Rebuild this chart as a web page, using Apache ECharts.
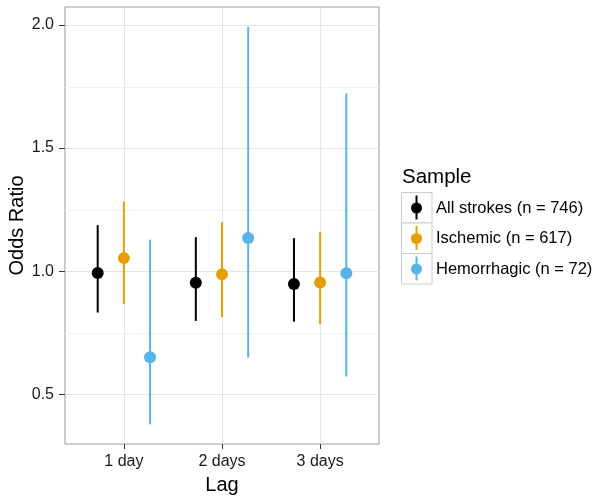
<!DOCTYPE html>
<html><head><meta charset="utf-8">
<script src="https://cdn.jsdelivr.net/npm/echarts@6/dist/echarts.min.js"></script>
<style>html,body{margin:0;padding:0;background:#fff}#c{width:604px;height:504px}</style>
</head><body><div id="c"></div>
<script>
var categories = ['1 day', '2 days', '3 days'];
var seriesNames = ['All strokes (n = 746)', 'Ischemic (n = 617)', 'Hemorrhagic (n = 72)'];
var colors = ['#000000', '#E69F00', '#56B4E9'];
var estAll = [0.993, 0.953, 0.948];
var lowAll = [0.832, 0.798, 0.795];
var highAll = [1.187, 1.138, 1.134];
var estIsch = [1.053, 0.987, 0.954];
var lowIsch = [0.866, 0.814, 0.785];
var highIsch = [1.283, 1.200, 1.160];
var estHem = [0.650, 1.135, 0.992];
var lowHem = [0.378, 0.649, 0.572];
var highHem = [1.128, 1.993, 1.722];
var yTicks = [0.5, 1.0, 1.5, 2.0];
var yMinor = [0.75, 1.25, 1.75];
var yTitle = 'Odds Ratio';
var xTitle = 'Lag';
var legendTitle = 'Sample';

var est = [estAll, estIsch, estHem];
var low = [lowAll, lowIsch, lowHem];
var high = [highAll, highIsch, highHem];
var dodge = [-0.2667, 0, 0.2667];
var FONT = 'Liberation Sans, Arial, sans-serif';

var series = [];
// grid lines (horizontal major+minor, vertical at categories)
var gridData = yMinor.map(function(v){ return [0, v, 0]; })
  .concat(yTicks.map(function(v){ return [0, v, 1]; }))
  .concat(categories.map(function(c, i){ return [1, i + 1, 1]; }));
series.push({
  type: 'custom', silent: true, z: 1,
  data: gridData,
  renderItem: function(params, api){
    var cs = params.coordSys;
    var kind = api.value(0), v = api.value(1), major = api.value(2);
    var col = major ? '#e5e5e5' : '#f3f3f3';
    if (kind === 0) {
      var y = Math.round(api.coord([1, v])[1]) + 0.5;
      return {type: 'line', shape: {x1: cs.x, y1: y, x2: cs.x + cs.width, y2: y}, style: {stroke: col, lineWidth: 1}};
    } else {
      var x = Math.round(api.coord([v, 1])[0]) + 0.5;
      return {type: 'line', shape: {x1: x, y1: cs.y, x2: x, y2: cs.y + cs.height}, style: {stroke: col, lineWidth: 1}};
    }
  }
});
for (var s = 0; s < 3; s++) {
  (function(s){
    var bars = categories.map(function(c, i){ return [i + 1 + dodge[s], low[s][i], high[s][i]]; });
    series.push({
      type: 'custom', name: seriesNames[s], z: 3,
      data: bars,
      encode: {x: 0, y: [1, 2]},
      renderItem: function(params, api){
        var p1 = api.coord([api.value(0), api.value(1)]);
        var p2 = api.coord([api.value(0), api.value(2)]);
        return {type: 'line', shape: {x1: p1[0], y1: p1[1], x2: p2[0], y2: p2[1]},
          style: {stroke: colors[s], lineWidth: 2}};
      }
    });
    series.push({
      type: 'scatter', name: seriesNames[s], z: 4,
      symbol: 'circle', symbolSize: 12,
      itemStyle: {color: colors[s], opacity: 1},
      data: categories.map(function(c, i){ return [i + 1 + dodge[s], est[s][i]]; })
    });
  })(s);
}

// titles + legend drawn as graphic
var graphic = [
  {type: 'text', x: 17, y: 225.5, rotation: Math.PI / 2,
    style: {text: yTitle, font: '20px ' + FONT, fill: '#000', align: 'center', verticalAlign: 'middle'}},
  {type: 'text', left: 402, top: 167, style: {text: legendTitle, font: '20.5px ' + FONT, fill: '#000'}}
];
for (var k = 0; k < 3; k++) {
  var y0 = 192.5 + k * 30.5;
  graphic.push({type: 'rect', shape: {x: 401.5, y: y0, width: 30.5, height: 30.5}, style: {fill: '#fff', stroke: '#cccccc', lineWidth: 1}});
  graphic.push({type: 'line', shape: {x1: 416.5, y1: y0 + 3, x2: 416.5, y2: y0 + 27}, style: {stroke: colors[k], lineWidth: 2}});
  graphic.push({type: 'circle', shape: {cx: 416.5, cy: y0 + 15.5, r: 5.5}, style: {fill: colors[k]}});
  graphic.push({type: 'text', left: 436, top: y0 + 7, style: {text: seriesNames[k], font: '16.5px ' + FONT, fill: '#000'}});
}

var chart = echarts.init(document.getElementById('c'), null, {renderer: 'canvas'});
chart.setOption({
  animation: false,
  backgroundColor: '#fff',
  grid: {left: 65, top: 7, width: 314, height: 437, containLabel: false, outerBoundsMode: 'none',
    show: true, borderColor: '#999999', borderWidth: 1, backgroundColor: 'transparent'},
  xAxis: {
    type: 'value', min: 0.4, max: 3.6,
    name: xTitle, nameLocation: 'middle', nameGap: 31,
    nameTextStyle: {fontSize: 20, fontFamily: FONT, color: '#000'},
    axisLine: {show: false},
    splitLine: {show: false},
    axisTick: {show: true, length: 5, customValues: [1, 2, 3], lineStyle: {color: '#333', width: 1}},
    axisLabel: {customValues: [1, 2, 3], fontSize: 16, fontFamily: FONT, color: '#1a1a1a', margin: 10,
      formatter: function(v){ var i = Math.round(v) - 1; return categories[i] || ''; }}
  },
  yAxis: {
    type: 'value', min: 0.298, max: 2.073,
    axisLine: {show: false},
    splitLine: {show: false},
    axisTick: {show: true, length: 6, customValues: yTicks, lineStyle: {color: '#333', width: 1}},
    axisLabel: {customValues: yTicks, fontSize: 16, fontFamily: FONT, color: '#1a1a1a', margin: 11,
      formatter: function(v){ return v.toFixed(1); }}
  },
  graphic: graphic,
  series: series
});
</script></body></html>
